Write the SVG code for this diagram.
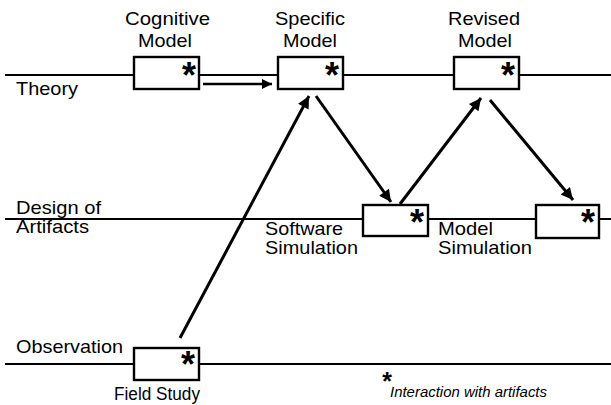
<svg xmlns="http://www.w3.org/2000/svg" width="611" height="405" viewBox="0 0 611 405">
<defs>
<marker id="ah" viewBox="0 0 10 10" refX="10" refY="5" markerWidth="6.5" markerHeight="4" markerUnits="strokeWidth" orient="auto">
<path d="M0,0 L10,5 L0,10 z" fill="#000"/>
</marker>
<style>
text{font-family:"Liberation Sans",Arial,sans-serif;font-size:19px;fill:#000}
.lane{stroke:#000;stroke-width:2;fill:none}
.box{fill:#fff;stroke:#000;stroke-width:2.4}
.star{font-size:36px;font-weight:bold;text-anchor:middle}
.arr{stroke:#000;stroke-width:3;fill:none;marker-end:url(#ah)}
</style>
</defs>
<g id="lanes">
<line class="lane" x1="5" y1="75" x2="611" y2="75"/>
<line class="lane" x1="5" y1="219" x2="611" y2="219"/>
<line class="lane" x1="5" y1="364" x2="611" y2="364"/>
<text x="16" y="95" textLength="62" lengthAdjust="spacingAndGlyphs">Theory</text>
<text x="16" y="214" textLength="85" lengthAdjust="spacingAndGlyphs">Design of</text>
<text x="16" y="233" textLength="73" lengthAdjust="spacingAndGlyphs">Artifacts</text>
<text x="16" y="353" textLength="107" lengthAdjust="spacingAndGlyphs">Observation</text>
</g>
<g id="connectors">
<line class="arr" x1="203" y1="84" x2="272" y2="84" style="stroke-width:2.5"/>
<line class="arr" x1="180" y1="338" x2="309" y2="96"/>
<line class="arr" x1="316" y1="96" x2="391" y2="202"/>
<line class="arr" x1="400" y1="204" x2="481" y2="98"/>
<line class="arr" x1="490" y1="100" x2="573" y2="200"/>
</g>
<g id="cognitive">
<text x="125" y="25" textLength="85" lengthAdjust="spacingAndGlyphs">Cognitive</text>
<text x="138" y="47" textLength="54" lengthAdjust="spacingAndGlyphs">Model</text>
<rect class="box" x="134" y="57" width="65" height="32"/>
<text class="star" x="189" y="88">*</text>
</g>
<g id="specific">
<text x="275" y="25" textLength="70" lengthAdjust="spacingAndGlyphs">Specific</text>
<text x="283" y="47" textLength="54" lengthAdjust="spacingAndGlyphs">Model</text>
<rect class="box" x="278" y="57" width="65" height="32"/>
<text class="star" x="332" y="88">*</text>
</g>
<g id="revised">
<text x="448" y="25" textLength="72" lengthAdjust="spacingAndGlyphs">Revised</text>
<text x="458" y="47" textLength="54" lengthAdjust="spacingAndGlyphs">Model</text>
<rect class="box" x="454" y="57" width="65" height="32"/>
<text class="star" x="508" y="88">*</text>
</g>
<g id="software">
<rect class="box" x="363" y="205" width="65" height="31"/>
<text class="star" x="417" y="235">*</text>
<text x="265" y="235" textLength="78" lengthAdjust="spacingAndGlyphs">Software</text>
<text x="265" y="254" textLength="93" lengthAdjust="spacingAndGlyphs">Simulation</text>
</g>
<g id="modelsim">
<rect class="box" x="536" y="205" width="63" height="33"/>
<text class="star" x="588" y="235">*</text>
<text x="438" y="235" textLength="55" lengthAdjust="spacingAndGlyphs">Model</text>
<text x="438" y="254" textLength="94" lengthAdjust="spacingAndGlyphs">Simulation</text>
</g>
<g id="field">
<rect class="box" x="134" y="348" width="65" height="32"/>
<text class="star" x="188" y="377">*</text>
<text x="114" y="400" style="font-size:18px" textLength="86" lengthAdjust="spacingAndGlyphs">Field Study</text>
</g>
<g id="legend">
<text class="star" x="387" y="390" style="font-size:25px">*</text>
<text x="390" y="397" style="font-size:14px;font-style:italic" textLength="157" lengthAdjust="spacingAndGlyphs">Interaction with artifacts</text>
</g>
</svg>
